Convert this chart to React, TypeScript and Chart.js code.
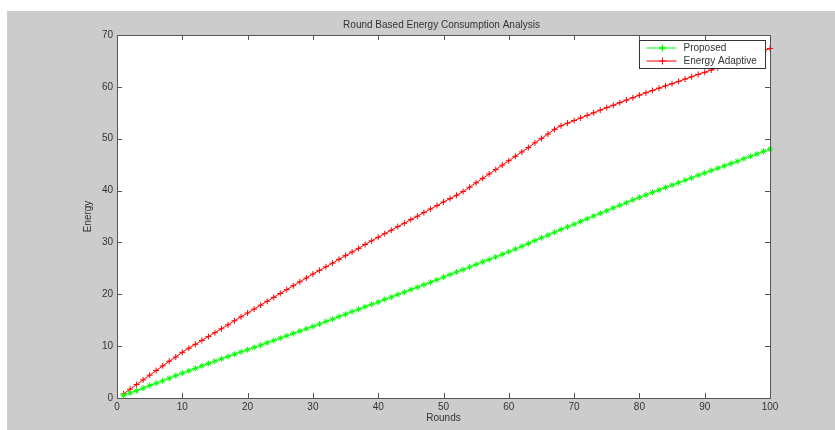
import React, { useEffect, useRef } from "react";
import { Chart, registerables } from "chart.js";

Chart.register(...registerables);

const TITLE = "Round Based Energy Consumption Analysis";
const X_LABEL = "Rounds";
const Y_LABEL = "Energy";
const SERIES_LABELS = ["Proposed", "Energy Adaptive"];
const SERIES_COLORS = ["#00ff00", "#ff0000"];
const SERIES_MARKERS = ["star", "cross"];

const ROUNDS = [
  1, 2, 3, 4, 5, 6, 7, 8, 9, 10,
  11, 12, 13, 14, 15, 16, 17, 18, 19, 20,
  21, 22, 23, 24, 25, 26, 27, 28, 29, 30,
  31, 32, 33, 34, 35, 36, 37, 38, 39, 40,
  41, 42, 43, 44, 45, 46, 47, 48, 49, 50,
  51, 52, 53, 54, 55, 56, 57, 58, 59, 60,
  61, 62, 63, 64, 65, 66, 67, 68, 69, 70,
  71, 72, 73, 74, 75, 76, 77, 78, 79, 80,
  81, 82, 83, 84, 85, 86, 87, 88, 89, 90,
  91, 92, 93, 94, 95, 96, 97, 98, 99, 100,
];

const PROPOSED = [
  0.5, 0.95, 1.4, 1.9, 2.4, 2.85, 3.3, 3.8, 4.3, 4.8,
  5.25, 5.7, 6.2, 6.65, 7.1, 7.55, 8.0, 8.45, 8.9, 9.3,
  9.75, 10.2, 10.65, 11.1, 11.55, 12.0, 12.45, 12.9, 13.35, 13.8,
  14.25, 14.75, 15.2, 15.7, 16.15, 16.65, 17.1, 17.6, 18.05, 18.5,
  19.0, 19.45, 19.95, 20.4, 20.9, 21.35, 21.85, 22.3, 22.8, 23.3,
  23.8, 24.3, 24.75, 25.25, 25.75, 26.25, 26.7, 27.2, 27.7, 28.2,
  28.7, 29.25, 29.8, 30.35, 30.9, 31.4, 31.95, 32.5, 33.0, 33.5,
  34.05, 34.55, 35.1, 35.6, 36.1, 36.65, 37.15, 37.65, 38.2, 38.7,
  39.15, 39.65, 40.1, 40.6, 41.05, 41.5, 42.0, 42.45, 42.95, 43.4,
  43.85, 44.3, 44.75, 45.2, 45.65, 46.15, 46.6, 47.05, 47.55, 48.0,
];

const ENERGY_ADAPTIVE = [
  0.8, 1.7, 2.6, 3.5, 4.4, 5.3, 6.2, 7.1, 7.9, 8.8,
  9.6, 10.35, 11.1, 11.85, 12.6, 13.35, 14.1, 14.9, 15.65, 16.4,
  17.15, 17.9, 18.65, 19.4, 20.15, 20.9, 21.65, 22.4, 23.15, 23.9,
  24.6, 25.3, 26.0, 26.75, 27.45, 28.15, 28.85, 29.6, 30.3, 31.0,
  31.7, 32.35, 33.05, 33.7, 34.4, 35.05, 35.75, 36.45, 37.1, 37.8,
  38.45, 39.1, 39.8, 40.65, 41.5, 42.35, 43.2, 44.05, 44.9, 45.75,
  46.6, 47.45, 48.3, 49.2, 50.05, 50.9, 51.8, 52.5, 53.0, 53.5,
  54.0, 54.5, 55.0, 55.5, 56.0, 56.45, 56.95, 57.45, 57.9, 58.4,
  58.85, 59.3, 59.75, 60.2, 60.6, 61.05, 61.5, 61.95, 62.4, 62.8,
  63.25, 63.7, 64.15, 64.6, 65.05, 65.5, 65.95, 66.45, 66.9, 67.4,
];

const X_MIN = 0;
const X_MAX = 100;
const X_STEP = 10;
const Y_MIN = 0;
const Y_MAX = 70;
const Y_STEP = 10;

const FONT = "'Liberation Sans', Arial, sans-serif";
const TEXT_COLOR = "#333333";
const FRAME_COLOR = "#555555";
const FIG_BG = "#cccccc";

const backgroundPlugin = {
  id: "figBackground",
  beforeDraw(chart: any) {
    const { ctx, width, height, chartArea } = chart;
    ctx.save();
    ctx.fillStyle = "#ffffff";
    ctx.fillRect(0, 0, width, height);
    ctx.fillStyle = FIG_BG;
    ctx.fillRect(7, 11, width - 7, height - 11);
    ctx.fillStyle = "#ffffff";
    ctx.fillRect(chartArea.left, chartArea.top, chartArea.right - chartArea.left, chartArea.bottom - chartArea.top);
    ctx.restore();
  },
};

const framePlugin = {
  id: "matlabFrame",
  afterDatasetsDraw(chart: any) {
    const { ctx, chartArea } = chart;
    const { left, right, top, bottom } = chartArea;
    const xs = chart.scales.x;
    const ys = chart.scales.y;
    const TL = 5;
    ctx.save();
    ctx.strokeStyle = FRAME_COLOR;
    ctx.lineWidth = 1;
    ctx.strokeRect(Math.round(left) + 0.5, Math.round(top) + 0.5, Math.round(right - left), Math.round(bottom - top));
    ctx.beginPath();
    xs.ticks.forEach((t: any) => {
      if (t.value <= X_MIN || t.value >= X_MAX) return;
      const px = Math.round(xs.getPixelForValue(t.value)) + 0.5;
      ctx.moveTo(px, bottom);
      ctx.lineTo(px, bottom - TL);
      ctx.moveTo(px, top);
      ctx.lineTo(px, top + TL);
    });
    ys.ticks.forEach((t: any) => {
      if (t.value <= Y_MIN || t.value >= Y_MAX) return;
      const py = Math.round(ys.getPixelForValue(t.value)) + 0.5;
      ctx.moveTo(left, py);
      ctx.lineTo(left + TL, py);
      ctx.moveTo(right, py);
      ctx.lineTo(right - TL, py);
    });
    ctx.stroke();

    // title
    ctx.fillStyle = TEXT_COLOR;
    ctx.font = `10px ${FONT}`;
    ctx.textAlign = "center";
    ctx.textBaseline = "middle";
    ctx.fillText(TITLE, (left + right) / 2 - 2, 25);

    // legend
    const lx = 639.5;
    const ly = 40.5;
    const lw = 126;
    const lh = 28;
    ctx.fillStyle = "#ffffff";
    ctx.fillRect(lx, ly, lw, lh);
    ctx.strokeStyle = "#333333";
    ctx.lineWidth = 1;
    ctx.strokeRect(lx, ly, lw, lh);
    SERIES_LABELS.forEach((label, i) => {
      const color = SERIES_COLORS[i];
      const y = 48 + i * 13;
      ctx.save();
      ctx.strokeStyle = color;
      ctx.fillStyle = color;
      ctx.lineWidth = 1;
      ctx.fillRect(lx + 7, y - 0.5, 30, 1);
      const cx = Math.round(lx + 22);
      ctx.fillRect(cx - 3, y - 0.5, 7, 1);
      ctx.fillRect(cx, y - 3.5, 1, 7);
      if (SERIES_MARKERS[i] === "star") {
        ctx.beginPath();
        ctx.moveTo(cx - 2 + 0.5, y - 2);
        ctx.lineTo(cx + 2 + 0.5, y + 2);
        ctx.moveTo(cx - 2 + 0.5, y + 2);
        ctx.lineTo(cx + 2 + 0.5, y - 2);
        ctx.stroke();
      }
      ctx.restore();
      ctx.fillStyle = TEXT_COLOR;
      ctx.textAlign = "left";
      ctx.textBaseline = "middle";
      ctx.fillText(label, lx + 44, y + 0.5);
    });
    ctx.restore();
  },
};

export default function App() {
  const canvasRef = useRef<HTMLCanvasElement | null>(null);

  useEffect(() => {
    if (!canvasRef.current) return;
    const series = [PROPOSED, ENERGY_ADAPTIVE];
    const chart = new Chart(canvasRef.current, {
      type: "line",
      data: {
        datasets: series.map((values, s) => ({
          label: SERIES_LABELS[s],
          data: ROUNDS.map((r, i) => ({ x: r, y: values[i] })),
          borderColor: SERIES_COLORS[s],
          backgroundColor: SERIES_COLORS[s],
          borderWidth: 1,
          pointStyle: SERIES_MARKERS[s] as any,
          pointRadius: 3,
          pointBorderWidth: 1,
          pointBorderColor: SERIES_COLORS[s],
          fill: false,
          tension: 0,
          clip: false as any,
        })),
      },
      options: {
        responsive: false,
        animation: false,
        devicePixelRatio: 1,
        layout: { padding: { left: 0, top: 35, right: 65, bottom: 0 } },
        plugins: {
          legend: { display: false },
          title: { display: false },
          tooltip: { enabled: false },
        },
        scales: {
          x: {
            type: "linear",
            min: X_MIN,
            max: X_MAX,
            grid: { display: false, drawTicks: false },
            border: { display: false },
            ticks: {
              stepSize: X_STEP,
              color: TEXT_COLOR,
              font: { family: FONT, size: 10 },
              padding: 3,
              maxRotation: 0,
            },
            title: {
              display: true,
              text: X_LABEL,
              color: TEXT_COLOR,
              font: { family: FONT, size: 10 },
              padding: { top: 0, bottom: 6 },
            },
            afterFit(scale: any) {
              scale.height = 32;
            },
          },
          y: {
            min: Y_MIN,
            max: Y_MAX,
            grid: { display: false, drawTicks: false },
            border: { display: false },
            ticks: {
              stepSize: Y_STEP,
              color: TEXT_COLOR,
              font: { family: FONT, size: 10 },
              padding: 4,
            },
            title: {
              display: true,
              text: Y_LABEL,
              color: TEXT_COLOR,
              font: { family: FONT, size: 10 },
              padding: { top: 82, bottom: 0 },
            },
            afterFit(scale: any) {
              scale.width = 117;
            },
          },
        },
      },
      plugins: [backgroundPlugin, framePlugin],
    });
    return () => chart.destroy();
  }, []);

  return (
    <div style={{ position: "fixed", left: 0, top: 0, width: 835, height: 430 }}>
      <canvas ref={canvasRef} width={835} height={430} />
    </div>
  );
}
